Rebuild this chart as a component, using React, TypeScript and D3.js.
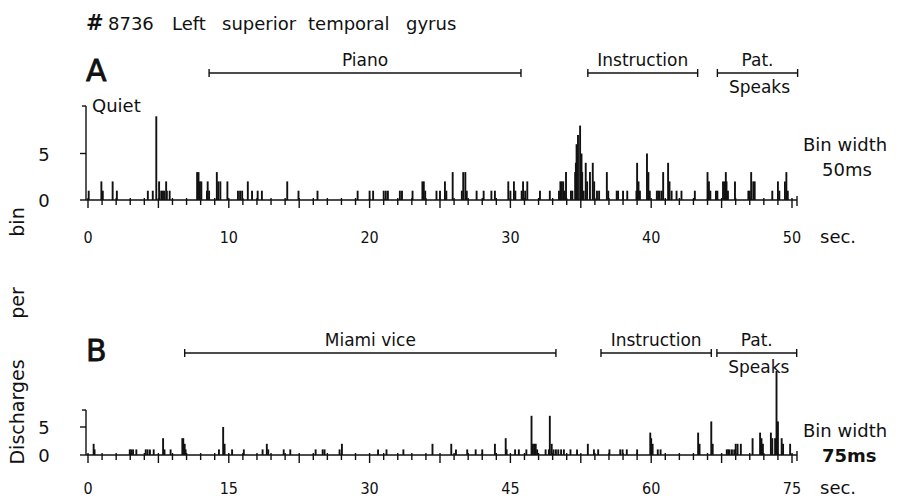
import React from 'react';
import * as d3 from 'd3';

// panel A, 50 ms bins: time (s) of each non-empty bin and its count
const timesA = [0.05, 0.95, 1.05, 1.75, 2.05, 4.25, 4.6, 4.85, 5.05, 5.2, 5.3, 5.4, 5.55, 5.6, 5.8,
  7.75, 7.85, 7.95, 8.05, 8.45, 8.5, 8.6, 9.15, 9.25, 9.4, 9.9, 10.65, 10.8, 10.95, 11.35, 11.65,
  12.05, 12.35, 14.15, 14.95, 16.3, 19.15, 20.0, 20.25, 21.0, 21.15, 21.3, 22.15, 22.3, 23.05,
  23.75, 23.85, 23.95, 24.75, 25.0, 25.35, 25.45, 25.9, 26.55, 26.65, 26.8, 26.9, 27.6, 28.1,
  28.65, 28.9, 29.85, 30.0, 30.25, 30.35, 30.8, 30.9, 31.05, 31.2, 32.1, 32.8, 33.45, 33.55,
  33.65, 33.75, 33.85, 33.95, 34.3, 34.4, 34.6, 34.65, 34.7, 34.8, 34.95, 35.05, 35.1, 35.2,
  35.35, 35.45, 35.65, 35.85, 35.95, 36.15, 36.3, 36.85, 36.95, 37.55, 37.65, 38.0, 38.3, 38.95,
  39.0, 39.1, 39.2, 39.7, 39.8, 39.9, 40.4, 40.5, 40.6, 40.75, 40.85, 41.2, 41.3, 41.45, 41.8,
  42.15, 43.1, 44.0, 44.1, 44.2, 44.6, 44.7, 45.1, 45.2, 45.3, 45.35, 45.45, 45.95, 46.9, 47.0,
  47.1, 47.25, 47.35, 48.6, 49.0, 49.1, 49.5, 49.6, 49.7];
const countsA = [1, 2, 1, 2, 1, 1, 1, 9, 2, 1, 1, 1, 2, 1, 1,
  3, 3, 2, 2, 1, 2, 1, 3, 2, 2, 2, 1, 1, 1, 2, 1,
  1, 1, 2, 1, 1, 1, 1, 1, 1, 1, 1, 1, 1, 1,
  2, 2, 1, 1, 1, 2, 1, 3, 1, 3, 3, 1, 1, 1,
  1, 1, 2, 1, 2, 1, 1, 2, 1, 2, 1, 1, 1, 2,
  2, 2, 1, 3, 1, 1, 3, 4, 6, 7, 8, 5, 3, 1,
  4, 2, 3, 4, 2, 1, 1, 3, 1, 1, 1, 1, 1, 1,
  4, 2, 1, 5, 3, 1, 1, 1, 1, 1, 3, 4, 2, 1, 1,
  1, 1, 3, 2, 1, 1, 1, 2, 2, 3, 2, 1, 2, 1, 1,
  3, 2, 2, 1, 2, 1, 2, 3, 1];

// panel B, 75 ms bins
const timesB = [0.6, 0.7, 4.45, 4.6, 4.8, 5.15, 6.15, 6.35, 6.6, 7.0, 8.0, 8.15, 8.8, 10.05, 10.15,
  10.3, 10.4, 13.95, 14.4, 14.55, 15.35, 16.6, 18.6, 19.05, 19.2, 20.85, 21.55, 24.25, 25.0, 25.2,
  26.8, 27.05, 30.9, 31.8, 33.6, 36.7, 38.7, 39.2, 40.4, 41.3, 42.0, 43.35, 44.5, 44.6, 45.5,
  45.9, 46.7, 47.25, 47.4, 47.55, 47.7, 47.85, 48.75, 49.1, 49.2, 49.4, 49.6, 49.85, 50.1, 50.4,
  50.7, 51.4, 52.1, 53.25, 53.9, 54.35, 55.55, 56.7, 56.95, 57.4, 58.5, 59.9, 60.0, 60.15, 60.7,
  61.0, 65.0, 65.15, 66.4, 66.55, 68.05, 68.2, 68.35, 68.6, 68.85, 69.0, 69.2, 69.55, 70.8, 71.6,
  71.75, 71.9, 72.75, 72.9, 73.2, 73.35, 73.5, 73.9, 74.05, 74.8];
const countsB = [2, 1, 1, 1, 1, 1, 1, 1, 1, 1, 3, 1, 1, 3, 3,
  2, 1, 1, 5, 2, 1, 1, 1, 2, 1, 1, 1, 1, 1, 1,
  1, 2, 1, 1, 1, 2, 2, 1, 1, 1, 1, 2, 3, 1, 1,
  1, 1, 7, 2, 2, 2, 1, 1, 1, 7, 2, 1, 1, 1, 1,
  1, 1, 1, 2, 1, 1, 1, 1, 1, 1, 1, 4, 3, 2, 1,
  1, 4, 2, 6, 2, 1, 1, 1, 1, 1, 2, 2, 2, 3, 4,
  3, 2, 4, 3, 3, 15, 6, 3, 2, 2];

const tickLabelsA = ['0', '10', '20', '30', '40', '50'];
const tickLabelsB = ['0', '15', '30', '45', '60', '75'];

// epochs above each panel: label, start (s), end (s)
const epochLabelsA = ['Piano', 'Instruction', 'Pat.'];
const epochStartA = [8.6, 35.5, 44.7];
const epochEndA = [30.75, 43.3, 50.4];
const epochLabelsB = ['Miami vice', 'Instruction', 'Pat.'];
const epochStartB = [10.3, 54.65, 67.0];
const epochEndB = [49.85, 66.4, 75.5];

const titleWords = ['8736', 'Left', 'superior', 'temporal', 'gyrus'];

const FONT = '"DejaVu Sans", "Liberation Sans", sans-serif';
const NARROW = '"Liberation Sans Narrow", "DejaVu Sans Condensed", "DejaVu Sans", sans-serif';
const INK = '#111';

interface PanelProps {
  letter: string;
  times: number[];
  counts: number[];
  maxT: number;
  tickStep: number;
  tickLabels: string[];
  base: number;
  unit: number;
  axisTop: number;
  epochLabels: string[];
  epochStart: number[];
  epochEnd: number[];
  epochY: number;
  binLabel: string;
  binY: number;
  labelY: number;
}

function Panel(p: PanelProps) {
  const x = d3.scaleLinear().domain([0, p.maxT]).range([88, 792]);
  const y = d3.scaleLinear().domain([0, 1]).range([p.base, p.base - p.unit]);
  const axisX = 86;
  const ticks = d3.range(0, p.maxT + 0.001, p.tickStep);
  const labelStep = p.maxT / (p.tickLabels.length - 1);

  return (
    <g>
      <text x={axisX} y={p.epochY + 8} fontFamily={FONT} fontSize={30} fill={INK}
        stroke={INK} strokeWidth={0.8}>{p.letter}</text>

      {p.epochLabels.map((lab, i) => {
        const x0 = x(p.epochStart[i]);
        const x1 = x(p.epochEnd[i]);
        const cx = (x0 + x1) / 2;
        return (
          <g key={lab + i} stroke={INK} strokeWidth={1.4}>
            <line x1={x0} x2={x1} y1={p.epochY} y2={p.epochY} />
            <line x1={x0} x2={x0} y1={p.epochY - 4} y2={p.epochY + 4} />
            <line x1={x1} x2={x1} y1={p.epochY - 4} y2={p.epochY + 4} />
            <text x={cx} y={p.epochY - 7} textAnchor="middle" fontFamily={FONT} fontSize={17}
              fill={INK} stroke="none">{lab}</text>
            {lab === 'Pat.' && (
              <text x={cx + 2} y={p.epochY + 20} textAnchor="middle" fontFamily={FONT} fontSize={17}
                fill={INK} stroke="none">Speaks</text>
            )}
          </g>
        );
      })}

      {/* spikes */}
      <g stroke={INK} strokeWidth={1.9}>
        {p.times.map((t, i) => (
          <line key={i} x1={x(t)} x2={x(t)} y1={p.base} y2={y(p.counts[i])} />
        ))}
      </g>

      {/* y axis */}
      <g stroke={INK} strokeWidth={1.4}>
        <line x1={axisX} x2={axisX} y1={p.base} y2={p.axisTop} />
        <line x1={axisX - 6} x2={axisX} y1={p.base} y2={p.base} />
        <line x1={axisX - 6} x2={axisX} y1={y(5)} y2={y(5)} />
        <line x1={axisX - 4} x2={axisX} y1={p.axisTop} y2={p.axisTop} />
      </g>
      <text x={44} y={y(5) + 7} textAnchor="middle" fontFamily={FONT} fontSize={18} fill={INK}>5</text>
      <text x={44} y={p.base + 7} textAnchor="middle" fontFamily={FONT} fontSize={18} fill={INK}>0</text>

      {/* x axis */}
      <g stroke={INK} strokeWidth={1.4}>
        <line x1={axisX} x2={797} y1={p.base} y2={p.base} />
        {ticks.map((t, i) => (
          <line key={i} x1={x(t)} x2={x(t)} y1={p.base - 2} y2={p.base + (i % 5 === 0 ? 8 : 5)} />
        ))}
        <line x1={797} x2={797} y1={p.base - 4} y2={p.base + 6} />
      </g>
      {p.tickLabels.map((lab, i) => (
        <text key={lab} x={x(i * labelStep)} y={p.labelY} textAnchor="middle" fontFamily={NARROW}
          fontSize={16} fill={INK}>{lab}</text>
      ))}
      <text x={820} y={p.labelY} fontFamily={FONT} fontSize={18} fill={INK}>sec.</text>

      <text x={803} y={p.binY} fontFamily={FONT} fontSize={18} fill={INK}>Bin width</text>
      <text x={822} y={p.binY + 25} fontFamily={FONT} fontSize={18} fill={INK}
        fontWeight={p.binLabel === '75ms' ? 'bold' : 'normal'}>{p.binLabel}</text>
    </g>
  );
}

export default function App() {
  const wordX = [108, 172, 222, 308, 406];
  return (
    <svg width={913} height={503} style={{ display: 'block', margin: '-8px', background: '#fff' }}>
      <g fontFamily={FONT} fontSize={18} fill={INK}>
        <text x={86} y={30} fontSize={21} fontWeight="bold">#</text>
        {titleWords.map((w, i) => (
          <text key={w} x={wordX[i]} y={30}>{w}</text>
        ))}
      </g>
      <text x={92} y={112} fontFamily={FONT} fontSize={18} fill={INK}>Quiet</text>

      <Panel letter="A" times={timesA} counts={countsA} maxT={50} tickStep={1}
        tickLabels={tickLabelsA} base={200} unit={9.3} axisTop={106}
        epochLabels={epochLabelsA} epochStart={epochStartA} epochEnd={epochEndA} epochY={73}
        binLabel="50ms" binY={151} labelY={243} />
      <Panel letter="B" times={timesB} counts={countsB} maxT={75} tickStep={1.5}
        tickLabels={tickLabelsB} base={455} unit={5.6} axisTop={410}
        epochLabels={epochLabelsB} epochStart={epochStartB} epochEnd={epochEndB} epochY={353}
        binLabel="75ms" binY={437} labelY={494} />

      <g fontFamily={FONT} fontSize={19} fill={INK} textAnchor="middle">
        <text transform="translate(24,222) rotate(-90)">bin</text>
        <text transform="translate(24,303) rotate(-90)">per</text>
        <text transform="translate(24,412) rotate(-90)">Discharges</text>
      </g>
    </svg>
  );
}
